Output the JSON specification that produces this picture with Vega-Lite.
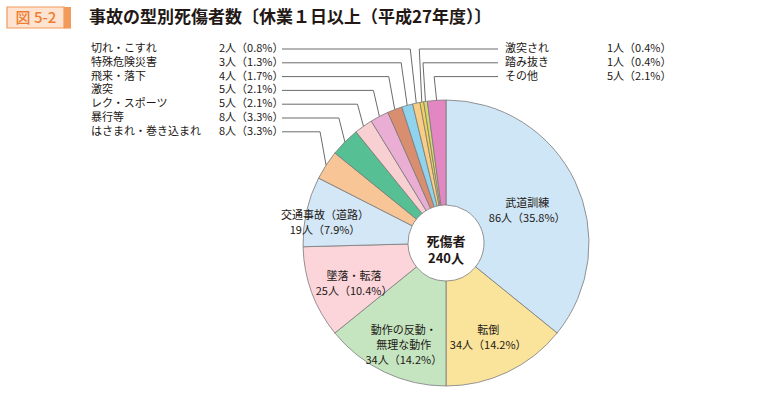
{
  "$schema": "https://vega.github.io/schema/vega-lite/v6.json",
  "width": 760,
  "height": 395,
  "autosize": {"type": "none"},
  "padding": 0,
  "background": "white",
  "config": {"view": {"stroke": null}, "font": "Noto Sans CJK JP", "text": {"font": "Noto Sans CJK JP"}},
  "data": {
    "values": [
      {"k": 1, "name": "武道訓練", "n": 86, "pct": 35.8},
      {"k": 2, "name": "転倒", "n": 34, "pct": 14.2},
      {"k": 3, "name": "動作の反動・無理な動作", "n": 34, "pct": 14.2},
      {"k": 4, "name": "墜落・転落", "n": 25, "pct": 10.4},
      {"k": 5, "name": "交通事故（道路）", "n": 19, "pct": 7.9},
      {"k": 6, "name": "はさまれ・巻き込まれ", "n": 8, "pct": 3.3},
      {"k": 7, "name": "暴行等", "n": 8, "pct": 3.3},
      {"k": 8, "name": "レク・スポーツ", "n": 5, "pct": 2.1},
      {"k": 9, "name": "激突", "n": 5, "pct": 2.1},
      {"k": 10, "name": "飛来・落下", "n": 4, "pct": 1.7},
      {"k": 11, "name": "特殊危険災害", "n": 3, "pct": 1.3},
      {"k": 12, "name": "切れ・こすれ", "n": 2, "pct": 0.8},
      {"k": 13, "name": "激突され", "n": 1, "pct": 0.4},
      {"k": 14, "name": "踏み抜き", "n": 1, "pct": 0.4},
      {"k": 15, "name": "その他", "n": 5, "pct": 2.1}
    ]
  },
  "transform": [
    {"joinaggregate": [{"op": "sum", "field": "n", "as": "total"}]},
    {"window": [{"op": "sum", "field": "n", "as": "cum"}], "sort": [{"field": "k"}], "frame": [null, 0]},
    {"calculate": "(datum.cum - datum.n / 2) / datum.total * 2 * PI", "as": "mid"},
    {"calculate": "datum.n + '人（' + format(datum.pct, '.1f') + '%）'", "as": "valtxt"}
  ],
  "layer": [
    {
      "mark": {"type": "arc", "outerRadius": 143, "innerRadius": 38, "stroke": "#7a7a7a", "strokeWidth": 0.8},
      "encoding": {
        "x": {"value": 446},
        "y": {"value": 243},
        "theta": {"field": "n", "type": "quantitative", "stack": true},
        "order": {"field": "k", "type": "quantitative"},
        "color": {
          "field": "name",
          "type": "nominal",
          "legend": null,
          "scale": {
            "domain": ["武道訓練", "転倒", "動作の反動・無理な動作", "墜落・転落", "交通事故（道路）", "はさまれ・巻き込まれ", "暴行等", "レク・スポーツ", "激突", "飛来・落下", "特殊危険災害", "切れ・こすれ", "激突され", "踏み抜き", "その他"],
            "range": ["#cfe6f6", "#fae39a", "#c4e5c0", "#fbd5da", "#d3e7f6", "#f8c597", "#56bf94", "#f9d0d2", "#eaaed4", "#d98f6f", "#8fd3ec", "#f8cd86", "#f4d25a", "#d6d86a", "#e387c3"]
          }
        }
      }
    },
    {
      "transform": [
        {"filter": "datum.n >= 19"},
        {"calculate": "datum.name === '交通事故（道路）' ? 124 : (datum.name === '武道訓練' ? 90 : 98)", "as": "rr"},
        {"calculate": "446 + datum.rr * sin(datum.mid)", "as": "px"},
        {"calculate": "243 - datum.rr * cos(datum.mid)", "as": "py"},
        {"calculate": "replace(datum.name, '・無理', '・\\n無理') + '\\n' + datum.valtxt", "as": "label"}
      ],
      "mark": {"type": "text", "fontSize": 11, "lineBreak": "\n", "lineHeight": 15, "align": "center", "baseline": "middle", "color": "#231815"},
      "encoding": {
        "x": {"field": "px", "type": "quantitative", "scale": {"domain": [0, 760], "nice": false, "zero": false}, "axis": null},
        "y": {"field": "py", "type": "quantitative", "scale": {"domain": [0, 395], "reverse": true, "nice": false, "zero": false}, "axis": null},
        "text": {"field": "label"}
      }
    },
    {
      "transform": [
        {"filter": "datum.n <= 8"},
        {"calculate": "datum.k >= 13 ? 'R' : 'L'", "as": "side"},
        {"calculate": "datum.side === 'L' ? 49 + 13.8 * (12 - datum.k) : 49 + 13.8 * (datum.k - 13)", "as": "ly"},
        {"calculate": "446 + 143 * sin(datum.mid)", "as": "px"},
        {"calculate": "243 - 143 * cos(datum.mid)", "as": "py"},
        {"calculate": "datum.side === 'L' ? datum.px - 6 : datum.px - 2.5", "as": "bx"},
        {"calculate": "datum.side === 'L' ? 282 : 498", "as": "hx"},
        {"calculate": "datum.side === 'L' ? 91 : 505", "as": "nx"},
        {"calculate": "datum.side === 'L' ? 219 : 607", "as": "vx"}
      ],
      "layer": [
        {
          "mark": {"type": "rule", "color": "#6b6b6b", "strokeWidth": 1},
          "encoding": {
            "x": {"field": "hx", "type": "quantitative", "scale": {"domain": [0, 760], "nice": false, "zero": false}, "axis": null},
            "x2": {"field": "bx"},
            "y": {"field": "ly", "type": "quantitative", "scale": {"domain": [0, 395], "reverse": true, "nice": false, "zero": false}, "axis": null}
          }
        },
        {
          "mark": {"type": "rule", "color": "#6b6b6b", "strokeWidth": 1},
          "encoding": {
            "x": {"field": "bx", "type": "quantitative", "scale": {"domain": [0, 760], "nice": false, "zero": false}, "axis": null},
            "x2": {"field": "px"},
            "y": {"field": "ly", "type": "quantitative", "scale": {"domain": [0, 395], "reverse": true, "nice": false, "zero": false}, "axis": null},
            "y2": {"field": "py"}
          }
        },
        {
          "mark": {"type": "text", "fontSize": 11, "align": "left", "baseline": "middle", "color": "#231815"},
          "encoding": {
            "x": {"field": "nx", "type": "quantitative", "scale": {"domain": [0, 760], "nice": false, "zero": false}, "axis": null},
            "y": {"field": "ly", "type": "quantitative", "scale": {"domain": [0, 395], "reverse": true, "nice": false, "zero": false}, "axis": null},
            "text": {"field": "name"}
          }
        },
        {
          "mark": {"type": "text", "fontSize": 11, "align": "left", "baseline": "middle", "color": "#231815"},
          "encoding": {
            "x": {"field": "vx", "type": "quantitative", "scale": {"domain": [0, 760], "nice": false, "zero": false}, "axis": null},
            "y": {"field": "ly", "type": "quantitative", "scale": {"domain": [0, 395], "reverse": true, "nice": false, "zero": false}, "axis": null},
            "text": {"field": "valtxt"}
          }
        }
      ]
    },
    {
      "transform": [
        {"aggregate": [{"op": "sum", "field": "n", "as": "tot"}]},
        {"calculate": "'死傷者\\n' + datum.tot + '人'", "as": "clabel"}
      ],
      "mark": {"type": "text", "fontSize": 13, "fontWeight": "bold", "lineBreak": "\n", "lineHeight": 17, "align": "center", "baseline": "middle", "color": "#231815"},
      "encoding": {
        "x": {"value": 446},
        "y": {"value": 242},
        "text": {"field": "clabel"}
      }
    },
    {
      "data": {"values": [{"t": "図 5-2"}]},
      "layer": [
        {
          "mark": {"type": "rect", "fill": "#fde3d0", "stroke": "#f19a5b", "strokeWidth": 1.2},
          "encoding": {"x": {"value": 7}, "x2": {"value": 64}, "y": {"value": 7}, "y2": {"value": 28}}
        },
        {
          "mark": {"type": "rect", "fill": "#f19a5b"},
          "encoding": {"x": {"value": 64}, "x2": {"value": 71}, "y": {"value": 7}, "y2": {"value": 28.6}}
        },
        {
          "mark": {"type": "text", "fontSize": 15, "align": "center", "baseline": "middle", "color": "#ee7d31", "fontWeight": 500},
          "encoding": {"x": {"value": 36}, "y": {"value": 18}, "text": {"field": "t"}}
        }
      ]
    },
    {
      "data": {"values": [{"t": "事故の型別死傷者数〔休業１日以上（平成27年度）〕"}]},
      "mark": {"type": "text", "fontSize": 17, "align": "left", "baseline": "middle", "color": "#231815", "fontWeight": "bold"},
      "encoding": {"x": {"value": 89}, "y": {"value": 18}, "text": {"field": "t"}}
    }
  ]
}
